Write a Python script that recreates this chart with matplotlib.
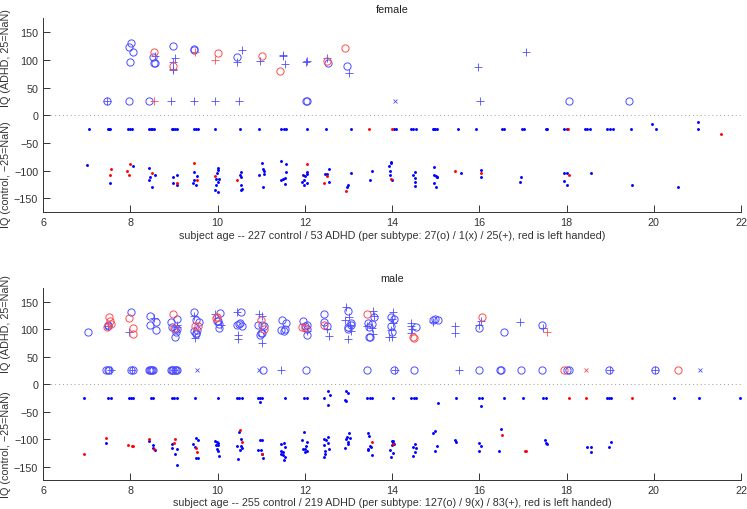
import numpy as np
import matplotlib
matplotlib.use("Agg")
import matplotlib.pyplot as plt

nan = float("nan")
plt.rcParams['font.family'] = ['Liberation Sans', 'DejaVu Sans']

# ---------------- FEMALE ----------------
F_XLABEL = "subject age -- 227 control / 53 ADHD (per subtype: 27(o) / 1(x) / 25(+), red is left handed)"
# ADHD subtype o (right / left handed); nan = IQ missing
F_O_AGE = [7.47, 7.96, 8.44, 12.02, 12.05, 18.06, 19.43, 8.02, 7.97, 8.07,
           7.99, 8.51, 8.55, 8.57, 8.97, 9.45, 9.47, 10.44, 12.54, 12.96]
F_O_IQ = [nan, nan, nan, nan, nan, nan, nan, 130.7, 124, 113.9,
          95.8, 104.8, 94.5, 95, 125.3, 118.6, 119.5, 105.4, 94, 88.6]
F_O_LH_AGE = [8.54, 8.97, 10.0, 11.03, 11.44, 12.5, 12.93]
F_O_LH_IQ = [113.9, 89.7, 112, 107.2, 79.5, 98.1, 122.2]
# subtype +
F_P_AGE = [7.47, 8.93, 9.47, 9.95, 10.49, 16.02, 8.56, 9.02, 8.99, 8.98,
           8.99, 10.55, 10.45, 10.97, 11.49, 11.5, 11.55, 12.03, 12.04, 12.52,
           13.02, 15.97, 17.07]
F_P_IQ = [nan, nan, nan, nan, nan, nan, 107.6, 103, 96.9, 82,
          83, 117.4, 96.3, 98.1, 107.7, 108.5, 93.3, 96.9, 97.5, 104.1,
          75.9, 86.7, 115]
F_P_LH_AGE = [8.55, 9.49, 9.95]
F_P_LH_IQ = [nan, 115, 100]
# subtype x
F_X_AGE = [14.06]
F_X_IQ = [nan]
F_X_LH_AGE = []
F_X_LH_IQ = []
# controls
F_C_AGE = [7.0, 7.54, 8.06, 8.44, 8.57, 8.46, 8.44, 8.49, 9.08, 8.97,
           8.97, 9.07, 9.45, 9.53, 9.46, 9.43, 9.51, 10.0, 10.01, 9.98,
           10.04, 9.96, 10.0, 9.96, 9.94, 10.0, 10.54, 10.52, 10.54, 10.54,
           10.55, 10.54, 11.02, 11.04, 11.07, 10.94, 11.07, 11.04, 11.46, 11.56,
           11.57, 11.49, 11.45, 11.55, 11.55, 12.04, 11.95, 12.0, 12.04, 11.99,
           11.94, 12.04, 11.99, 12.46, 12.5, 12.56, 12.55, 12.99, 12.97, 13.07,
           13.54, 13.5, 13.97, 13.97, 13.94, 13.96, 13.96, 14.0, 14.52, 14.49,
           14.53, 14.53, 14.53, 14.97, 14.96, 15.0, 15.04, 15.02, 14.96, 15.0,
           15.57, 16.04, 16.03, 16.95, 16.94, 17.95, 18.0, 17.95, 18.0, 18.55,
           19.49, 20.56, 19.95, 21.02]
F_C_IQ = [89.8, 123, 92, 94.7, 109, 112, 118, 130, 109, 112,
          123, 126.5, 102, 109.7, 117, 121.8, 126.5, 94.7, 98.9, 104.8,
          115, 115.7, 121, 125.4, 136, 138.6, 103, 107.4, 111.5, 125.4,
          132.7, 135.6, 85.7, 97, 100, 107.4, 106, 129, 82, 88.6,
          103, 115, 118, 113.3, 124, 102.5, 109, 110.3, 106, 116.4,
          120.5, 121.8, 125.4, 106.6, 107, 97.6, 121, 126, 130, 104.8,
          100.7, 117.5, 83.9, 87, 91, 100, 109, 117, 102, 109,
          113.3, 120.5, 127.8, 94, 108.5, 110, 111, 112, 122.4, 130,
          104.8, 98.3, 112, 111, 120, 104.3, 105, 118.7, 126, 103.7,
          125.4, 129, 16.3, 11.5]
F_C_LH_AGE = [7.55, 7.54, 8.0, 7.93, 7.96, 8.49, 9.06, 9.45, 9.54, 9.94,
              10.44, 12.04, 12.51, 12.43, 12.94, 13.98, 15.45, 16.03, 18.06, 21.55]
F_C_LH_IQ = [97.6, 109, 88, 100.7, 108.5, 104.8, 123, 86.8, 117, 109.7,
             116.4, 87.5, 109.7, 121.8, 136.3, 114.6, 101.3, 104.3, 108, 33.8]
# controls with IQ missing
F_C_NOIQ_AGE = [7.06, 7.48, 7.52, 7.54, 7.94, 7.99, 8.04, 8.44, 8.47, 8.5,
                8.55, 8.96, 8.99, 9.03, 9.06, 9.46, 9.5, 9.55, 9.95, 10.52,
                10.96, 11.45, 11.53, 11.57, 12.06, 12.48, 13.06, 14.04, 14.08, 14.43,
                14.47, 14.55, 14.93, 14.96, 14.99, 15.02, 15.51, 15.92, 16.52, 16.56,
                16.97, 17.03, 17.52, 17.55, 17.95, 18.01, 18.42, 18.48, 18.54, 18.92,
                18.99, 19.06, 19.47, 20.04, 21.01]
F_C_NOIQ_LH_AGE = [13.47, 13.99, 18.03]

# ---------------- MALE ----------------
M_XLABEL = "subject age -- 255 control / 219 ADHD (per subtype: 127(o) / 9(x) / 83(+), red is left handed)"
M_O_AGE = [7.45, 7.5, 7.52, 8.02, 8.06, 8.42, 8.45, 8.48, 8.5, 8.53,
           8.93, 8.96, 8.99, 9.02, 9.05, 9.08, 11.04, 12.02, 13.43, 14.04,
           14.51, 16.0, 16.47, 16.5, 16.96, 17.44, 18.0, 18.06, 18.97, 20.02,
           7.02, 7.5, 7.48, 8.02, 8.45, 8.58, 8.46, 8.58, 9.07, 8.93,
           8.95, 9.08, 9.05, 9.03, 9.03, 9.47, 9.5, 9.58, 9.52, 9.47,
           9.5, 9.51, 10.05, 10.0, 10.03, 10.04, 9.98, 10.53, 10.5, 10.52,
           10.55, 10.45, 10.93, 11.02, 11.0, 11.01, 10.97, 11.07, 11.48, 11.57,
           11.46, 11.55, 11.53, 11.97, 12.05, 12.06, 12.04, 12.0, 12.43, 12.44,
           12.51, 12.98, 13.05, 13.0, 13.06, 12.98, 13.58, 13.44, 13.54, 13.48,
           13.48, 13.49, 13.97, 14.05, 13.98, 13.99, 14.56, 14.95, 14.99, 15.05,
           15.99, 16.56, 17.44]
M_O_IQ = [nan, nan, nan, nan, nan, nan, nan, nan, nan, nan,
          nan, nan, nan, nan, nan, nan, nan, nan, nan, nan,
          nan, nan, nan, nan, nan, nan, nan, nan, nan, nan,
          94.3, 107.8, 105.8, 131.3, 123.4, 113, 107, 98.5, 118, 113.7,
          104, 101, 94.3, 85.2, 100, 131.3, 116.7, 113.7, 98.5, 97.4,
          91.3, 92.5, 129.5, 114.3, 110, 102.2, 115, 130.7, 109.5, 110.5,
          105.8, 108.5, 107.4, 107, 93.7, 92.5, 90, 105, 116.7, 110.6,
          98, 100, 96, 114.3, 107.4, 99.8, 90, 106, 127.6, 113.7,
          106.4, 132.5, 110.6, 104, 108.5, 100, 122, 110.6, 109.5, 103.4,
          85.8, 86.5, 122.2, 117.6, 105, 94.3, 103.4, 116, 118, 116.5,
          101.6, 94.3, 108.2]
M_O_LH_AGE = [17.95, 20.56, 7.52, 7.54, 7.56, 7.46, 7.98, 8.07, 8.07, 8.97,
              9.01, 9.48, 9.55, 9.97, 9.99, 11.0, 11.07, 11.94, 12.0, 12.45,
              13.43, 14.48, 14.51, 16.06]
M_O_LH_IQ = [nan, nan, 122.8, 114.3, 108.9, 103.4, 119.8, 102.8, 90.7, 127.6,
             101.6, 105.3, 105.3, 120.4, 122, 116.7, 100, 104.6, 101.6, 107.4,
             128.2, 85.2, 83.4, 121.6]
M_P_AGE = [7.55, 8.04, 9.0, 11.46, 14.06, 15.54, 19.0, 20.03, 7.49, 7.97,
           8.54, 9.07, 9.07, 9.47, 9.48, 9.94, 10.07, 10.44, 10.48, 10.48,
           10.94, 11.02, 11.02, 12.04, 12.5, 12.55, 12.94, 13.01, 12.93, 13.04,
           13.06, 12.98, 13.57, 13.58, 13.43, 13.54, 13.56, 14.02, 14.01, 14.03,
           13.98, 13.94, 13.99, 14.44, 14.44, 14.46, 14.44, 14.94, 15.45, 15.45,
           16.03, 16.0, 16.93, 17.46]
M_P_IQ = [nan, nan, nan, nan, nan, nan, nan, nan, 106, 95,
          119.8, 108, 104.8, 123.4, 84, 128.2, 108, 130.7, 88.9, 83,
          127.6, 123.4, 74.4, 97, 99.8, 87, 140.4, 121.6, 116.7, 107.4,
          96.7, 81.6, 132.5, 124, 105.8, 102.5, 91.3, 131.8, 119, 111.2,
          98, 85.8, 86, 111.8, 105.3, 99.8, 92.5, 113.7, 105.8, 93.7,
          115, 108, 112.5, 102.2]
M_P_LH_AGE = [17.55]
M_P_LH_IQ = [95.5]
M_X_AGE = [9.52, 10.94, 21.07]
M_X_IQ = [nan, nan, nan]
M_X_LH_AGE = [18.44]
M_X_LH_IQ = [nan]
M_C_AGE = [7.44, 8.44, 8.53, 8.51, 8.57, 8.96, 9.06, 8.96, 9.03, 9.06,
           9.51, 9.55, 9.43, 9.48, 9.5, 9.55, 9.94, 9.98, 10.01, 9.96,
           10.02, 9.98, 10.0, 10.03, 10.5, 10.54, 10.45, 10.54, 10.56, 10.52,
           10.46, 10.97, 11.02, 10.93, 10.99, 11.05, 11.01, 11.46, 11.52, 11.55,
           11.46, 11.51, 11.45, 11.51, 11.54, 11.53, 11.99, 11.94, 12.05, 12.03,
           11.97, 12.0, 12.05, 12.0, 12.53, 12.43, 12.48, 12.53, 12.43, 12.55,
           12.46, 12.46, 12.45, 13.01, 12.96, 13.04, 12.94, 13.0, 12.98, 12.93,
           13.46, 13.47, 13.5, 13.52, 13.46, 13.44, 13.53, 13.99, 14.03, 14.02,
           14.0, 14.05, 13.95, 14.02, 13.98, 14.53, 14.48, 14.54, 14.52, 14.47,
           14.98, 14.94, 15.04, 14.98, 15.45, 15.47, 16.0, 16.04, 16.0, 16.5,
           16.45, 17.5, 17.54, 17.55, 18.46, 18.56, 18.55, 18.97, 19.02, 10.98,
           12.53, 12.58, 12.53, 12.94, 12.98, 12.92, 12.95, 15.06, 16.03]
M_C_IQ = [107.5, 103, 110.5, 116, 120, 109, 117.5, 116.4, 127.6, 147,
          97.8, 101.5, 109.3, 113.3, 133.6, 133.6, 104, 105.5, 107, 110.5,
          110, 118, 120.8, 129.8, 87.6, 99.6, 112.4, 112.4, 115.5, 119.7,
          136.6, 100.8, 100.8, 119.7, 119.7, 133.6, 127.6, 108.5, 106.5, 114.6,
          121.2, 124, 126, 129, 132, 137, 86.3, 101, 105.8, 112.4,
          118.5, 118, 120.5, 123, 96.6, 100, 102, 106.4, 111.2, 118.5,
          122, 127, 132, 89.3, 96, 98, 100, 105, 108, 115.5,
          88.7, 93.6, 113, 115, 117, 120, 129, 103, 104, 106,
          110, 109, 120.3, 124.5, 131.8, 108.2, 114, 116, 123, 130,
          84.5, 88, 111.8, 120.8, 102, 105, 107.5, 113, 122, 82,
          120.8, 102, 106, 108.8, 114, 114, 122.7, 114.2, 105, 31.8,
          12.4, 19, 37.3, 13, 16, 29, 31, 33.6, 40]
M_C_LH_AGE = [6.94, 7.44, 7.94, 8.03, 8.06, 8.43, 8.54, 9.03, 9.0, 9.51,
              9.52, 10.52, 10.55, 11.03, 13.53, 14.03, 16.51, 17.04, 17.06]
M_C_LH_IQ = [126.3, 98.4, 110, 112.4, 111.5, 99.6, 118.5, 100.2, 106.8, 115.2,
             122.4, 82.7, 105, 126.4, 104.5, 108, 92.3, 120.5, 121]
M_C_NOIQ_AGE = [6.94, 7.5, 7.55, 7.96, 8.02, 8.07, 8.47, 8.51, 8.95, 9.0,
                9.06, 9.48, 10.0, 10.45, 10.5, 10.57, 10.93, 10.98, 11.03, 11.55,
                11.99, 12.04, 12.43, 13.43, 13.49, 13.55, 14.03, 14.43, 14.5, 14.56,
                15.46, 15.99, 16.06, 16.56, 17.0, 17.47, 17.53, 18.92, 18.97, 19.01,
                20.47, 21.04, 21.97]
M_C_NOIQ_LH_AGE = [18.05, 18.45, 19.5]

NAN_LEVEL = 25
TEXT = '#333333'
BLUE = (0.0, 0.0, 1.0)
LBLUE = (0.3, 0.3, 1.0)
RED = (1.0, 0.0, 0.0)
LRED = (1.0, 0.3, 0.3)
FS = 7.75


def adhd(ax, age, iq, marker, color, ms, mew):
    y = np.nan_to_num(np.asarray(iq, dtype=float), nan=NAN_LEVEL)
    ax.plot(age, y, linestyle='none', marker=marker, ms=ms, mew=mew,
            mfc='none', mec=color, color=color)


def ctrl(ax, age, iq, color):
    y = -np.asarray(iq, dtype=float)
    ax.plot(age, y, linestyle='none', marker='o', ms=2.1, mew=0,
            mfc=color)


def panel(ax, title, xlabel, d, lpad):
    ctrl(ax, d['c_age'], d['c_iq'], BLUE)
    ctrl(ax, d['cn_age'], [NAN_LEVEL] * len(d['cn_age']), BLUE)
    ctrl(ax, d['c_lh_age'], d['c_lh_iq'], RED)
    ctrl(ax, d['cn_lh_age'], [NAN_LEVEL] * len(d['cn_lh_age']), RED)
    adhd(ax, d['o_age'], d['o_iq'], 'o', LBLUE, 5.2, 0.7)
    adhd(ax, d['p_age'], d['p_iq'], '+', LBLUE, 5.5, 0.6)
    adhd(ax, d['x_age'], d['x_iq'], 'x', LBLUE, 3.5, 0.6)
    adhd(ax, d['o_lh_age'], d['o_lh_iq'], 'o', LRED, 5.2, 0.7)
    adhd(ax, d['p_lh_age'], d['p_lh_iq'], '+', LRED, 5.5, 0.6)
    adhd(ax, d['x_lh_age'], d['x_lh_iq'], 'x', LRED, 3.5, 0.6)
    ax.axhline(0, color='#9a9a9a', lw=0.7, ls=(0, (1, 3)), zorder=0)
    ax.set_xlim(6, 22)
    ax.set_ylim(-175, 175)
    ax.set_xticks(np.arange(6, 23, 2))
    ax.set_yticks(np.arange(-150, 151, 50))
    for s in ('top', 'right'):
        ax.spines[s].set_visible(False)
    for s in ('left', 'bottom'):
        ax.spines[s].set_color(TEXT)
        ax.spines[s].set_linewidth(0.7)
    ax.tick_params(direction='in', length=5, width=0.7, colors=TEXT,
                   labelsize=FS, pad=3.5)
    ax.set_title(title, fontsize=FS, color='#222222', pad=5)
    ax.set_xlabel(xlabel, fontsize=FS, color=TEXT, labelpad=lpad)


fig = plt.figure(figsize=(7.47, 5.10), dpi=100)
ax1 = fig.add_axes([0.0576, 0.5824, 0.9344, 0.3794])
ax2 = fig.add_axes([0.0576, 0.0559, 0.9344, 0.3776])

panel(ax1, 'female', F_XLABEL, dict(
    c_age=F_C_AGE, c_iq=F_C_IQ, cn_age=F_C_NOIQ_AGE,
    c_lh_age=F_C_LH_AGE, c_lh_iq=F_C_LH_IQ, cn_lh_age=F_C_NOIQ_LH_AGE,
    o_age=F_O_AGE, o_iq=F_O_IQ, p_age=F_P_AGE, p_iq=F_P_IQ,
    x_age=F_X_AGE, x_iq=F_X_IQ, o_lh_age=F_O_LH_AGE, o_lh_iq=F_O_LH_IQ,
    p_lh_age=F_P_LH_AGE, p_lh_iq=F_P_LH_IQ, x_lh_age=F_X_LH_AGE, x_lh_iq=F_X_LH_IQ), 2.5)
panel(ax2, 'male', M_XLABEL, dict(
    c_age=M_C_AGE, c_iq=M_C_IQ, cn_age=M_C_NOIQ_AGE,
    c_lh_age=M_C_LH_AGE, c_lh_iq=M_C_LH_IQ, cn_lh_age=M_C_NOIQ_LH_AGE,
    o_age=M_O_AGE, o_iq=M_O_IQ, p_age=M_P_AGE, p_iq=M_P_IQ,
    x_age=M_X_AGE, x_iq=M_X_IQ, o_lh_age=M_O_LH_AGE, o_lh_iq=M_O_LH_IQ,
    p_lh_age=M_P_LH_AGE, p_lh_iq=M_P_LH_IQ, x_lh_age=M_X_LH_AGE, x_lh_iq=M_X_LH_IQ), 1.0)

# y labels (two parts per panel)
for ax, yA, yC in ((ax1, 0.80, 0.20), (ax2, 0.82, 0.19)):
    ax.text(-0.0525, yA, 'IQ (ADHD, 25=NaN)', transform=ax.transAxes,
            rotation=90, ha='center', va='center', fontsize=FS, color=TEXT)
    ax.text(-0.0525, yC, 'IQ (control, \u221225=NaN)', transform=ax.transAxes,
            rotation=90, ha='center', va='center', fontsize=FS, color=TEXT)

fig.savefig('out.png', dpi=100)
